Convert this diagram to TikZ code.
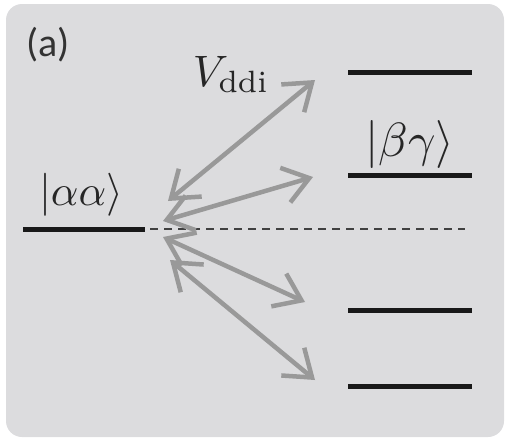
\documentclass[tikz,border=0pt]{standalone}
\usepackage{fontspec}
\newfontfamily\labelfont{Carlito}
\usetikzlibrary{arrows.meta}
\definecolor{panelbg}{HTML}{DCDCDE}
\definecolor{coupling}{HTML}{999999}
\begin{document}
\begin{tikzpicture}[x=1pt,y=-1pt,
  level/.style={line width=5pt,black!90},
  couple/.style={line width=4.5pt,coupling,{Straight Barb[length=25pt,width=36pt]}-{Straight Barb[length=25pt,width=36pt]}},
  guide/.style={line width=1.5pt,black!75,dash pattern=on 8pt off 6pt},
  ket/.style={inner sep=0pt,text=black!85}]
  \useasboundingbox (0,0) rectangle (505,439);
  \fill[panelbg,rounded corners=16pt] (6,4) rectangle (504,437);

  % energy levels
  \coordinate (aaL) at (23,229);  \coordinate (aaR) at (145,229);
  \coordinate (l1L) at (348,72);  \coordinate (l1R) at (472,72);
  \coordinate (l2L) at (348,175); \coordinate (l2R) at (472,175);
  \coordinate (l3L) at (348,310); \coordinate (l3R) at (472,310);
  \coordinate (l4L) at (348,386); \coordinate (l4R) at (472,386);
  \coordinate (dashL) at (150,229); \coordinate (dashR) at (465,229);
  \draw[level] (aaL) -- (aaR);
  \draw[level] (l1L) -- (l1R);
  \draw[level] (l2L) -- (l2R);
  \draw[level] (l3L) -- (l3R);
  \draw[level] (l4L) -- (l4R);
  \draw[guide] (dashL) -- (dashR);

  % couplings
  \coordinate (s1) at (168,201); \coordinate (e1) at (315,80);
  \coordinate (s2) at (163,221); \coordinate (e2) at (313,177);
  \coordinate (s3) at (163,237); \coordinate (e3) at (305,302);
  \coordinate (s4) at (170,260); \coordinate (e4) at (315,380);
  \draw[couple] (s1) -- (e1);
  \draw[couple] (s2) -- (e2);
  \draw[couple] (s3) -- (e3);
  \draw[couple] (s4) -- (e4);

  % labels
  \node[font=\labelfont\fontsize{40}{46}\selectfont,text=black!80,inner sep=0pt] (tag) at (48,45) {(a)};
  \node[ket,scale=4.3] (aa) at (81,195) {$|\alpha\alpha\rangle$};
  \node[ket,scale=4.8] (bg) at (410,144) {$|\beta\gamma\rangle$};
  \node[ket,scale=4.4,anchor=base west] (vddi) at (192,86) {$V_{\mathrm{ddi}}$};
\end{tikzpicture}
\end{document}
